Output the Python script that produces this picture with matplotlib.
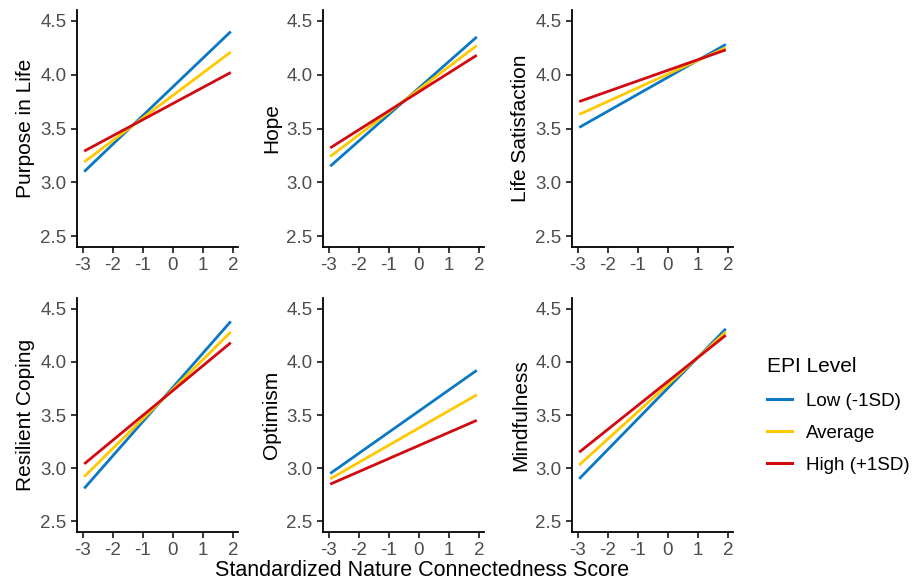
import matplotlib
matplotlib.use("Agg")
import matplotlib.pyplot as plt
from matplotlib.lines import Line2D

plt.rcParams['font.family'] = ['Liberation Sans', 'DejaVu Sans']

x_range = [-2.95, 1.92]
outcomes = ["Purpose in Life", "Hope", "Life Satisfaction",
            "Resilient Coping", "Optimism", "Mindfulness"]
levels = ["Low (-1SD)", "Average", "High (+1SD)"]
colors = ["#0A78C2", "#FFC800", "#D10A12"]

# start / end values per outcome for Low, Average, High
low_start = [3.10, 3.15, 3.51, 2.81, 2.95, 2.90]
low_end = [4.40, 4.35, 4.28, 4.38, 3.92, 4.31]
avg_start = [3.19, 3.24, 3.63, 2.92, 2.90, 3.03]
avg_end = [4.21, 4.27, 4.25, 4.28, 3.69, 4.28]
high_start = [3.29, 3.32, 3.75, 3.04, 2.85, 3.15]
high_end = [4.02, 4.18, 4.23, 4.18, 3.45, 4.25]

x_ticks = [-3, -2, -1, 0, 1, 2]
y_ticks = [2.5, 3.0, 3.5, 4.0, 4.5]

W, H = 921, 585
fig = plt.figure(figsize=(W / 100, H / 100), dpi=100)

lefts = [77, 323, 572]
tops = [10, 298]
bottoms = [247, 532]
pw = 161

starts = [low_start, avg_start, high_start]
ends = [low_end, avg_end, high_end]

for i, name in enumerate(outcomes):
    r, c = divmod(i, 3)
    l = lefts[c]
    t = tops[r]
    b = bottoms[r]
    ax = fig.add_axes([l / W, 1 - b / H, pw / W, (b - t) / H])
    for k in range(3):
        ax.plot(x_range, [starts[k][i], ends[k][i]], color=colors[k], lw=2.0,
                solid_capstyle='butt')
    ax.set_xlim(-3.19, 2.16)
    ax.set_ylim(2.40, 4.60)
    ax.set_xticks(x_ticks)
    ax.set_xticklabels([str(v) for v in x_ticks])
    ax.set_yticks(y_ticks)
    ax.set_yticklabels([f"{v:.1f}" for v in y_ticks])
    for s in ["top", "right"]:
        ax.spines[s].set_visible(False)
    for s in ["left", "bottom"]:
        ax.spines[s].set_linewidth(1.3)
        ax.spines[s].set_color("black")
    ax.tick_params(axis='both', direction='out', length=4.5, width=1.1,
                   color='black', labelsize=13.5, labelcolor='#4D4D4D', pad=3)
    ax.set_ylabel(name, fontsize=15, color='black', labelpad=4)

fig.text(422 / W, 1 - 571 / H,
         "Standardized Nature Connectedness Score", ha='center', va='center',
         fontsize=15.5, color='black')

handles = [Line2D([0], [0], color=colors[k], lw=2.2) for k in range(3)]
leg = fig.legend(handles, levels, title="EPI Level", loc='upper left',
                 bbox_to_anchor=(767 / W, 1 - 357 / H), frameon=False,
                 fontsize=13.5, title_fontsize=15, handlelength=1.35,
                 handletextpad=0.75, labelspacing=0.8, borderpad=0,
                 borderaxespad=0)
leg._legend_box.align = "left"
leg._legend_box.sep = 12

fig.savefig("out.png", dpi=100)
